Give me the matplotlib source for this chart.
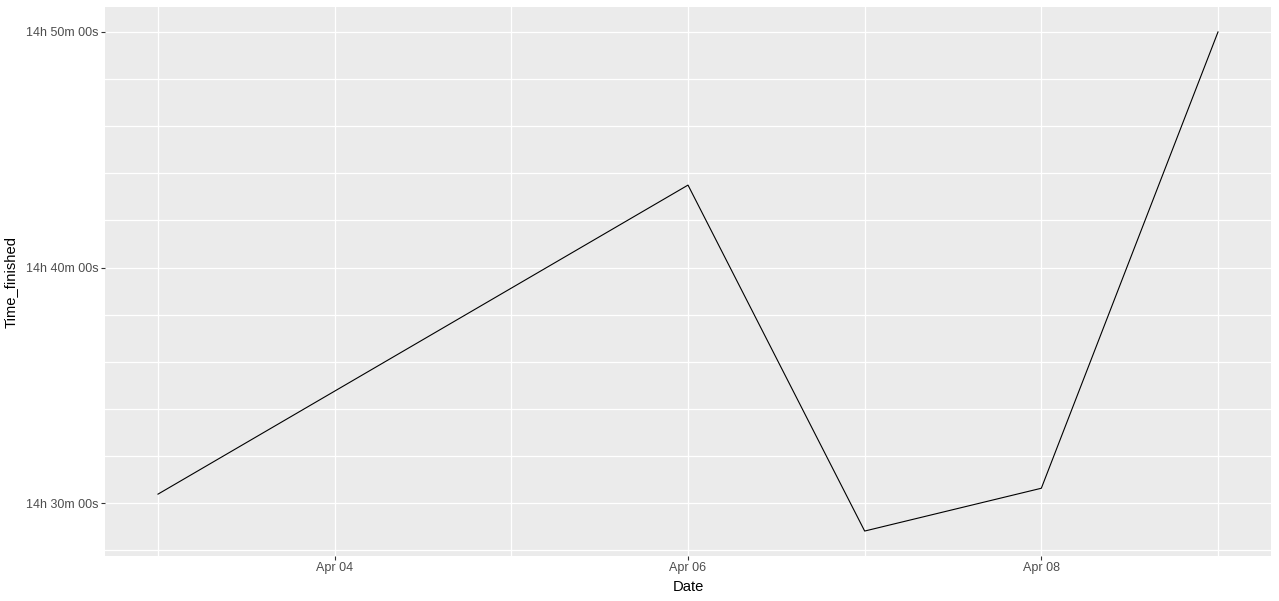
import matplotlib
matplotlib.use("Agg")
import matplotlib.pyplot as plt
import matplotlib.dates as mdates
from matplotlib.ticker import FuncFormatter, MultipleLocator
import numpy as np
import pandas as pd

# data
dates = ["2021-04-03", "2021-04-06", "2021-04-07", "2021-04-08", "2021-04-09"]
time_finished = ["14:30:23", "14:43:30", "14:28:49", "14:30:38", "14:50:00"]


def to_seconds(t):
    h, m, s = (int(v) for v in t.split(":"))
    return h * 3600 + m * 60 + s


def hms_label(v, pos=None):
    v = int(round(v))
    return f"{v // 3600:02d}h {(v % 3600) // 60:02d}m {v % 60:02d}s"


x = mdates.date2num(pd.to_datetime(dates).to_pydatetime())
y = np.array([to_seconds(t) for t in time_finished])

plt.rcParams["font.family"] = ["Liberation Sans", "DejaVu Sans"]

fig = plt.figure(figsize=(12.79, 6.01), dpi=100)
ax = fig.add_axes([105 / 1279, 1 - 556 / 601, (1271 - 105) / 1279, (556 - 7) / 601])
ax.set_facecolor("#EBEBEB")
for sp in ax.spines.values():
    sp.set_visible(False)

ax.plot(x, y, color="black", linewidth=0.8)

# ggplot-like 5% expansion
xr = x.max() - x.min()
yr = y.max() - y.min()
ax.set_xlim(x.min() - 0.05 * xr, x.max() + 0.05 * xr)
ax.set_ylim(y.min() - 0.05 * yr, y.max() + 0.05 * yr)

ax.xaxis.set_major_locator(mdates.DayLocator(bymonthday=[4, 6, 8]))
ax.xaxis.set_minor_locator(mdates.DayLocator())
ax.xaxis.set_major_formatter(mdates.DateFormatter("%b %d"))
ax.yaxis.set_major_locator(MultipleLocator(600))
ax.yaxis.set_minor_locator(MultipleLocator(120))
ax.yaxis.set_major_formatter(FuncFormatter(hms_label))

ax.grid(which="both", color="white", linewidth=0.9)
ax.set_axisbelow(True)
ax.tick_params(which="major", length=2.6, width=0.8, color="#333333",
               labelsize=9, labelcolor="#4D4D4D", pad=2)
ax.tick_params(which="minor", length=0)

ax.set_xlabel("Date", fontsize=10.6, color="black", labelpad=4)
ax.set_ylabel("Time_finished", fontsize=10.6, color="black", labelpad=6)

fig.savefig("out.png", dpi=100)
